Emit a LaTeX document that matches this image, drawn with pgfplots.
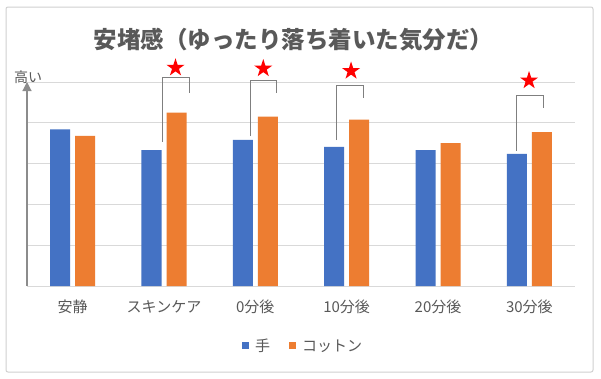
\documentclass[border=0pt]{standalone}
\usepackage{pgfplots}
\pgfplotsset{compat=1.18}
\usepackage{fontspec}
\setmainfont{Noto Sans CJK JP}
\usetikzlibrary{arrows.meta}
\definecolor{cblue}{HTML}{4472C4}
\definecolor{corange}{HTML}{ED7D31}
\definecolor{ctext}{HTML}{595959}
\definecolor{cgrid}{HTML}{D9D9D9}
\definecolor{cbracket}{HTML}{7F7F7F}
\definecolor{cframe}{HTML}{D0D0D0}
\definecolor{carrow}{HTML}{8C8C8C}
\pgfdeclareplotmark{fstar}{%
  \pgfpathmoveto{\pgfpointpolar{90}{\pgfplotmarksize}}%
  \pgfpathlineto{\pgfpointpolar{126}{0.382\pgfplotmarksize}}%
  \pgfpathlineto{\pgfpointpolar{162}{\pgfplotmarksize}}%
  \pgfpathlineto{\pgfpointpolar{198}{0.382\pgfplotmarksize}}%
  \pgfpathlineto{\pgfpointpolar{234}{\pgfplotmarksize}}%
  \pgfpathlineto{\pgfpointpolar{270}{0.382\pgfplotmarksize}}%
  \pgfpathlineto{\pgfpointpolar{306}{\pgfplotmarksize}}%
  \pgfpathlineto{\pgfpointpolar{342}{0.382\pgfplotmarksize}}%
  \pgfpathlineto{\pgfpointpolar{18}{\pgfplotmarksize}}%
  \pgfpathlineto{\pgfpointpolar{54}{0.382\pgfplotmarksize}}%
  \pgfpathclose\pgfusepathqfill}
\begin{document}
\begin{tikzpicture}
\useasboundingbox (0,0) rectangle (601bp,-379bp);
\fill[white] (0,0) rectangle (601bp,-379bp);
\draw[cframe, line width=1bp, rounded corners=2bp] (6bp,-7bp) rectangle (593bp,-372bp);
\node[text=ctext, font=\fontsize{23.5bp}{28bp}\selectfont\bfseries] at (293.5bp,-40bp) {安堵感（ゆったり落ち着いた気分だ）};
\begin{axis}[
  at={(27bp,-286bp)}, anchor=south west,
  scale only axis, width=548bp, height=204bp,
  xmin=-0.5, xmax=5.5, ymin=0, ymax=5,
  clip=false,
  axis y line*=left, axis x line*=bottom,
  y axis line style={-{Triangle[length=9bp,width=9bp]}, draw=carrow, line width=1.2bp},
  x axis line style={draw=cgrid, line width=1bp},
  ytick={1,2,3,4,5}, yticklabels={},
  ymajorgrids, grid style={cgrid, line width=1bp},
  xtick={0,1,2,3,4,5},
  xticklabels={安静, スキンケア, 0分後, 10分後, 20分後, 30分後},
  xticklabel style={anchor=base, yshift=-26bp, text=ctext, font=\fontsize{15bp}{18bp}\selectfont},
  major tick length=0pt, tick style={draw=none},
  legend style={at={(0.502,-0.294)}, anchor=center, draw=none, fill=none,
    legend columns=-1, font=\fontsize{15bp}{18bp}\selectfont, text=ctext,
    nodes={text=ctext, inner sep=0bp},
    /tikz/every odd column/.append style={column sep=6bp},
    /tikz/every even column/.append style={column sep=19bp}},
  legend image code/.code={\fill[#1] (0bp,-3.5bp) rectangle (7bp,3.5bp);},
]
\addplot[ybar, bar width=20bp, bar shift=-12.5bp, fill=cblue, draw=none] coordinates {
  (0,3.84) (1,3.33) (2,3.58) (3,3.41) (4,3.33) (5,3.24)};
\addplot[ybar, bar width=20bp, bar shift=12.5bp, fill=corange, draw=none] coordinates {
  (0,3.68) (1,4.25) (2,4.15) (3,4.08) (4,3.50) (5,3.77)};
\legend{手, コットン}
\addplot[cbracket, line width=1bp, mark=none, forget plot] coordinates {
  (0.981,3.537) (0.981,5.105) (1.277,5.105) (1.277,4.738)};
\addplot[cbracket, line width=1bp, mark=none, forget plot] coordinates {
  (1.942,3.676) (1.942,5.025) (2.230,5.025) (2.230,4.723)};
\addplot[cbracket, line width=1bp, mark=none, forget plot] coordinates {
  (2.891,3.578) (2.891,4.926) (3.182,4.926) (3.182,4.615)};
\addplot[cbracket, line width=1bp, mark=none, forget plot] coordinates {
  (4.862,3.316) (4.862,4.664) (5.153,4.664) (5.153,4.355)};
\addplot[only marks, mark=fstar, mark size=9.5bp, red, forget plot] coordinates {
  (1.126,5.35) (2.087,5.331) (3.048,5.27) (4.997,5.037)};
\end{axis}
\node[text=ctext, font=\fontsize{14bp}{16bp}\selectfont] at (28bp,-77bp) {高い};
\end{tikzpicture}
\end{document}
